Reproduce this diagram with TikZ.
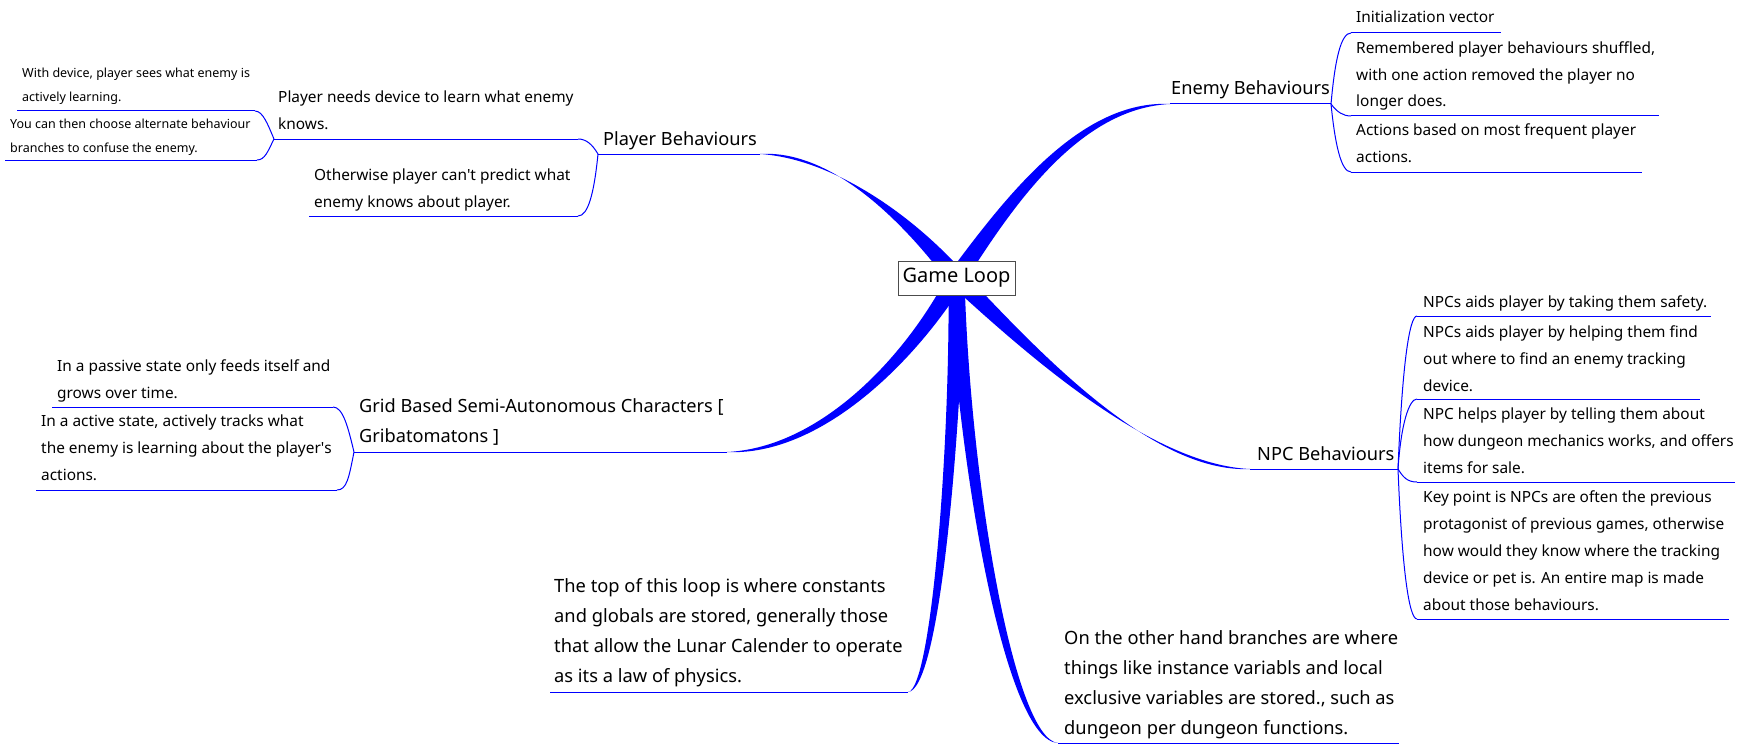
\documentclass[tikz,border=0pt]{standalone}
\usepackage{fontspec}
\setmainfont{Noto Sans}
\usetikzlibrary{calc}
\newcommand\taper[6]{\fill[blue] ($(#1)+(#5)$) .. controls ($(#2)+0.6*(#5)$) and ($(#3)+(#6)$) .. (#4) .. controls ($(#3)-(#6)$) and ($(#2)-0.6*(#5)$) .. ($(#1)-(#5)$) -- cycle;}
\tikzset{
  ln/.style={blue, line width=1pt},
  mainlbl/.style={anchor=base west, inner sep=0pt, align=left, font=\fontsize{18.2}{30}\selectfont},
  sublbl/.style={anchor=base west, inner sep=0pt, align=left, font=\fontsize{15.4}{27}\selectfont},
  smalllbl/.style={anchor=base west, inner sep=0pt, align=left, font=\fontsize{12.5}{24}\selectfont},
  biglbl/.style={anchor=base west, inner sep=0pt, align=left, font=\fontsize{18.3}{30}\selectfont},
  rootbox/.style={draw=black!70, fill=white, line width=1pt, minimum width=117, minimum height=34, inner sep=0pt, font=\fontsize{20}{22}\selectfont},
}
\begin{document}
\begin{tikzpicture}[x=1pt, y=-1pt]
\useasboundingbox (0,0) rectangle (1739,749);
\coordinate (gc) at (956.5,278);
% branch ends and junctions
\coordinate (pb-end) at (760,154);
\coordinate (jp) at (598,154);
\coordinate (jp2) at (274,139);
\coordinate (pn-r) at (578,139);
\coordinate (po-l) at (309,216);
\coordinate (po-r) at (578,216);
\coordinate (pw-l) at (17,111);
\coordinate (pw-r) at (255,111);
\coordinate (py-l) at (5,160);
\coordinate (py-r) at (257,160);
\coordinate (eb-end) at (1170,104);
\coordinate (je) at (1331,104);
\coordinate (e1-l) at (1351,33);
\coordinate (e1-r) at (1501,33);
\coordinate (e2-l) at (1351,116);
\coordinate (e2-r) at (1659,116);
\coordinate (e3-l) at (1351,172);
\coordinate (e3-r) at (1642,172);
\coordinate (nb-end) at (1250,469);
\coordinate (jn) at (1398,469);
\coordinate (n1-l) at (1417,316);
\coordinate (n1-r) at (1711,316);
\coordinate (n2-l) at (1417,399);
\coordinate (n2-r) at (1700,399);
\coordinate (n3-l) at (1417,482);
\coordinate (n3-r) at (1735,482);
\coordinate (n4-l) at (1417,619);
\coordinate (n4-r) at (1729,619);
\coordinate (gb-end) at (727,452);
\coordinate (jg) at (354,452);
\coordinate (g1-l) at (52,407);
\coordinate (g1-r) at (333,407);
\coordinate (g2-l) at (36,490);
\coordinate (g2-r) at (337,490);
\coordinate (bl-l) at (550,692);
\coordinate (bl-end) at (908,692);
\coordinate (br-end) at (1058,743);
\coordinate (br-r) at (1399,743);

% thick tapered branches
\taper{gc}{905,215}{830,154}{pb-end}{7.1,-5.6}{0,4.5}
\taper{gc}{1010,200}{1080,104}{eb-end}{7.5,5}{0,4.5}
\taper{gc}{1030,350}{1150,469}{nb-end}{6.5,-6.3}{0,4.5}
\taper{gc}{910,360}{820,452}{gb-end}{8,4}{0,4.5}
\taper{gc}{955,450}{935,690}{bl-end}{8,0}{4,0}
\taper{gc}{965,480}{1010,740}{br-end}{8,0}{4,-1}

% underlines
\draw[ln] (jp) -- (pb-end);
\draw[ln] (jp2) -- (pn-r);
\draw[ln] (po-l) -- (po-r);
\draw[ln] (pw-l) -- (pw-r);
\draw[ln] (py-l) -- (py-r);
\draw[ln] (eb-end) -- (je);
\draw[ln] (e1-l) -- (e1-r);
\draw[ln] (e2-l) -- (e2-r);
\draw[ln] (e3-l) -- (e3-r);
\draw[ln] (nb-end) -- (jn);
\draw[ln] (n1-l) -- (n1-r);
\draw[ln] (n2-l) -- (n2-r);
\draw[ln] (n3-l) -- (n3-r);
\draw[ln] (n4-l) -- (n4-r);
\draw[ln] (jg) -- (gb-end);
\draw[ln] (g1-l) -- (g1-r);
\draw[ln] (g2-l) -- (g2-r);
\draw[ln] (bl-l) -- (bl-end);
\draw[ln] (br-end) -- (br-r);

% junction connectors
\draw[ln] (jp) .. controls +(-6,-10) and +(8,0) .. (pn-r);
\draw[ln] (jp) .. controls +(-4,40) and +(10,0) .. (po-r);
\draw[ln] (jp2) .. controls +(-6,-14) and +(8,0) .. (pw-r);
\draw[ln] (jp2) .. controls +(-6,12) and +(8,0) .. (py-r);
\draw[ln] (je) .. controls +(4,-45) and +(-10,0) .. (e1-l);
\draw[ln] (je) .. controls +(6,8) and +(-8,0) .. (e2-l);
\draw[ln] (je) .. controls +(4,40) and +(-10,0) .. (e3-l);
\draw[ln] (jn) .. controls +(4,-100) and +(-8,0) .. (n1-l);
\draw[ln] (jn) .. controls +(3,-45) and +(-8,0) .. (n2-l);
\draw[ln] (jn) .. controls +(5,8) and +(-10,0) .. (n3-l);
\draw[ln] (jn) .. controls +(4,100) and +(-8,0) .. (n4-l);
\draw[ln] (jg) .. controls +(-6,-25) and +(10,0) .. (g1-r);
\draw[ln] (jg) .. controls +(-5,25) and +(10,0) .. (g2-r);

% root
\node[rootbox] (gl) at (gc) {Game Loop};

% labels (anchored at the baseline of the last line)
\node[mainlbl] (pb) at (603,146) {Player Behaviours};
\node[sublbl] (pn) at (278,129) {Player needs device to learn what enemy\\knows.};
\node[sublbl] (po) at (314,207) {Otherwise player can\textquotesingle t predict what\\enemy knows about player.};
\node[smalllbl] (pw) at (22,102) {With device, player sees what enemy is\\actively learning.};
\node[smalllbl] (py) at (10,152) {You can then choose alternate behaviour\\branches to confuse the enemy.};

\node[mainlbl] (eb) at (1171,95) {Enemy Behaviours};
\node[sublbl] (e1) at (1356,23) {Initialization vector};
\node[sublbl] (e2) at (1356,107) {Remembered player behaviours shuffled,\\with one action removed the player no\\longer does.};
\node[sublbl] (e3) at (1356,162) {Actions based on most frequent player\\actions.};

\node[mainlbl] (nb) at (1257,460) {NPC Behaviours};
\node[sublbl] (n1) at (1423,307) {NPCs aids player by taking them safety.};
\node[sublbl] (n2) at (1423,391) {NPCs aids player by helping them find\\out where to find an enemy tracking\\device.};
\node[sublbl] (n3) at (1423,473) {NPC helps player by telling them about\\how dungeon mechanics works, and offers\\items for sale.};
\node[sublbl] (n4) at (1423,610) {Key point is NPCs are often the previous\\protagonist of previous games, otherwise\\how would they know where the tracking\\device or pet is. An entire map is made\\about those behaviours.};

\node[mainlbl] (gb) at (359,442) {Grid Based Semi-Autonomous Characters [\\Gribatomatons ]};
\node[sublbl] (g1) at (57,398) {In a passive state only feeds itself and\\grows over time.};
\node[sublbl] (g2) at (41,480) {In a active state, actively tracks what\\the enemy is learning about the player\textquotesingle s\\actions.};

\node[biglbl] (bl) at (554,682) {The top of this loop is where constants\\and globals are stored, generally those\\that allow the Lunar Calender to operate\\as its a law of physics.};
\node[biglbl] (br) at (1064,734) {On the other hand branches are where\\things like instance variabls and local\\exclusive variables are stored., such as\\dungeon per dungeon functions.};
\end{tikzpicture}
\end{document}
